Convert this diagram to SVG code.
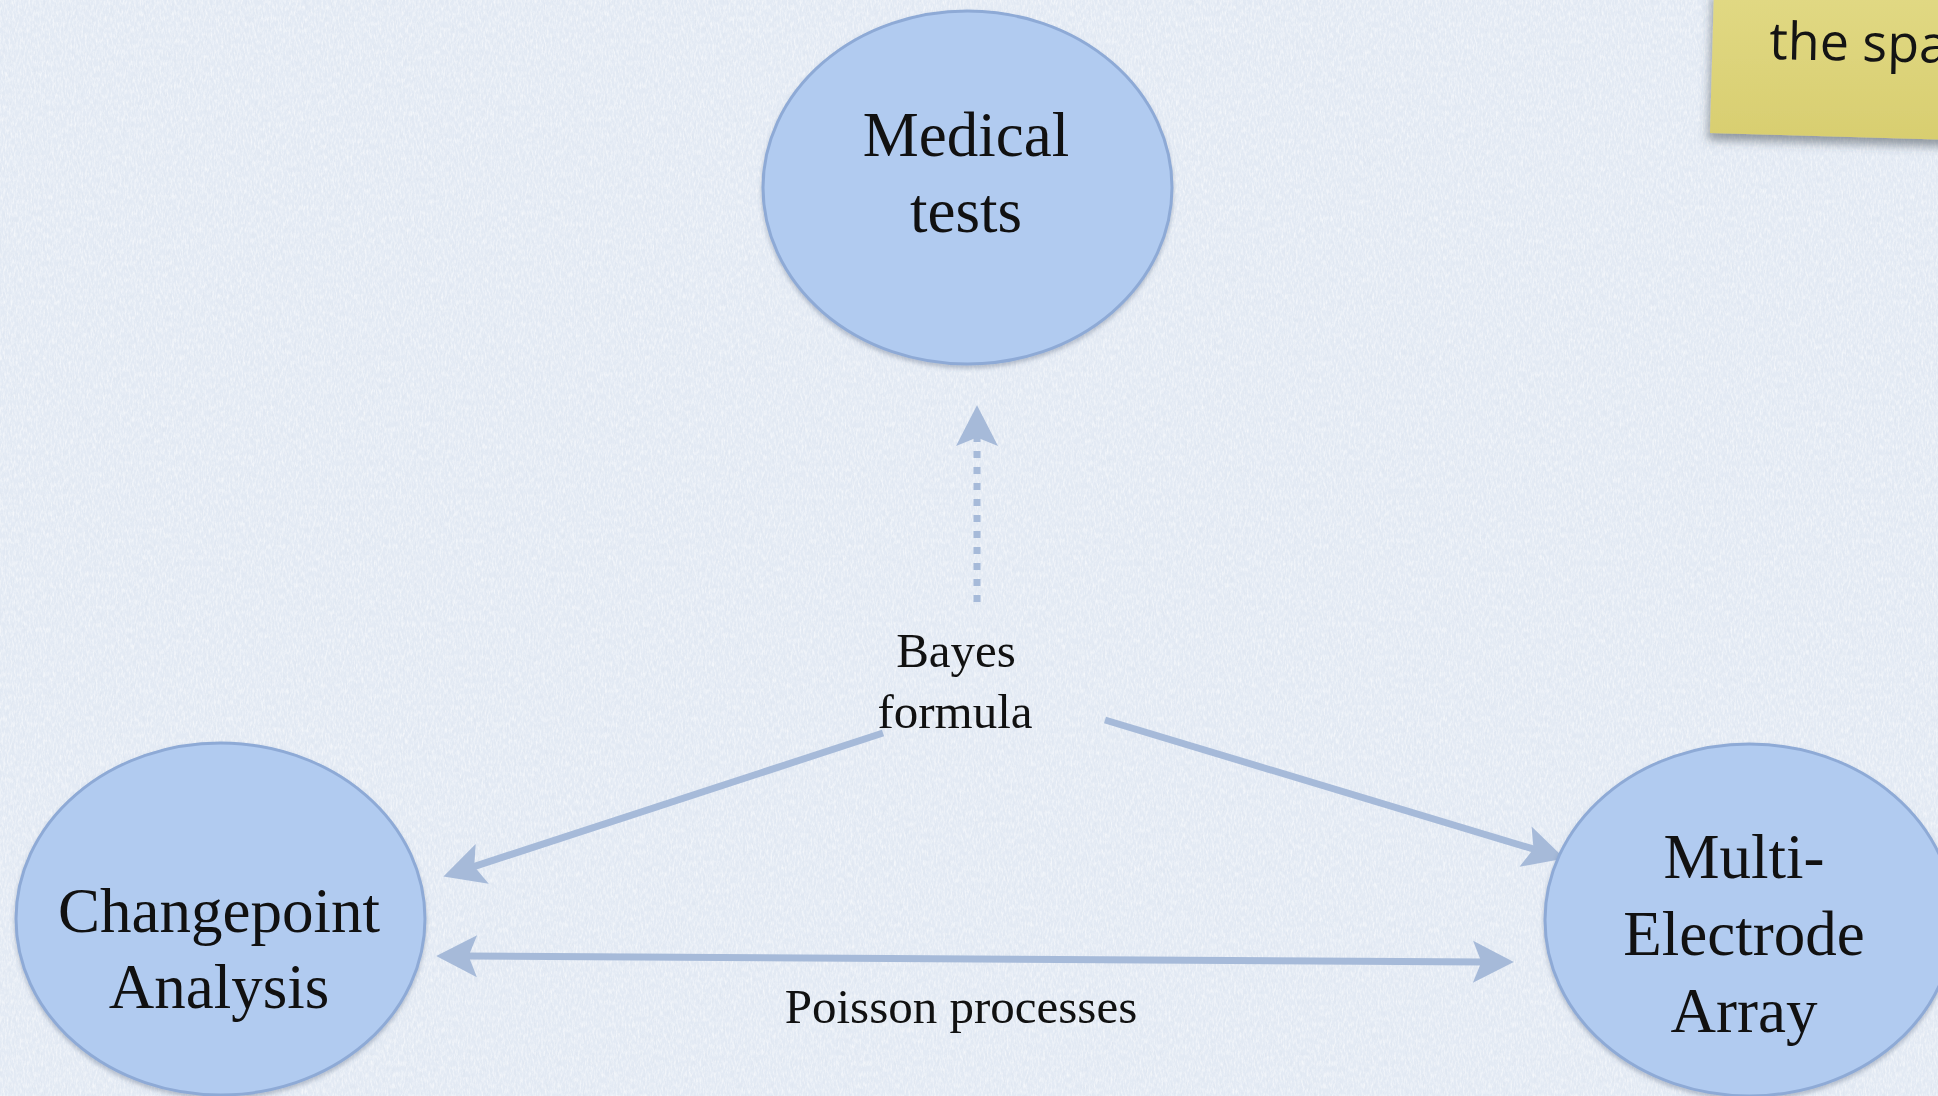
<svg xmlns="http://www.w3.org/2000/svg" width="1938" height="1096" viewBox="0 0 1938 1096">
  <style>
    .node ellipse { fill: #b1cbf0; stroke: #8eaad6; stroke-width: 3; filter: url(#nodeShadow); }
    .node text { font-family: "Liberation Serif", "DejaVu Serif", serif; font-size: 63px; fill: #111; text-anchor: middle; }
    .edge { fill: none; stroke: #a6bad9; stroke-width: 7; stroke-linecap: butt; }
    .edge-label { font-family: "Liberation Serif", "DejaVu Serif", serif; font-size: 49px; fill: #111; text-anchor: middle; }
    .note-text { font-family: "Open Sans", "DejaVu Sans", sans-serif; font-size: 52px; fill: #141414; }
  </style>
  <defs>
    <!-- paper grain over the backdrop: light fibres and faint darker flecks -->
    <filter id="grainLight" x="0" y="0" width="100%" height="100%">
      <feTurbulence type="fractalNoise" baseFrequency="0.55 0.18" numOctaves="3" seed="7" result="noise"/>
      <feColorMatrix in="noise" type="matrix" values="0 0 0 0 1  0 0 0 0 1  0 0 0 0 1  2.2 0 0 0 -0.9"/>
    </filter>
    <filter id="grainDark" x="0" y="0" width="100%" height="100%">
      <feTurbulence type="fractalNoise" baseFrequency="0.35 0.12" numOctaves="2" seed="19" result="noise"/>
      <feColorMatrix in="noise" type="matrix" values="0 0 0 0 0.55  0 0 0 0 0.62  0 0 0 0 0.72  -2 0 0 0 1.0"/>
    </filter>
    <filter id="nodeShadow" x="-10%" y="-10%" width="120%" height="125%">
      <feDropShadow dx="0" dy="3" stdDeviation="2" flood-color="#4f5f78" flood-opacity="0.35"/>
    </filter>
    <filter id="noteShadow" x="-10%" y="-20%" width="130%" height="160%">
      <feDropShadow dx="-2" dy="7" stdDeviation="5" flood-color="#3c4450" flood-opacity="0.5"/>
    </filter>
    <linearGradient id="noteFill" x1="0" y1="0" x2="0" y2="1">
      <stop offset="0" stop-color="#e1d984"/>
      <stop offset="1" stop-color="#d8ce70"/>
    </linearGradient>
    <!-- swept-back arrowhead; origin sits just behind the notch -->
    <marker id="head" markerUnits="userSpaceOnUse" markerWidth="60" markerHeight="60" viewBox="-15 -25 45 50" refX="0" refY="0" orient="auto-start-reverse" overflow="visible">
      <path d="M24,0 L-10,-17.5 L-3,0 L-10,17.5 Z" fill="#a6bad9"/>
    </marker>
  </defs>

  <!-- backdrop -->
  <rect x="0" y="0" width="1938" height="1096" fill="#e3eaf4"/>
  <rect x="0" y="0" width="1938" height="1096" filter="url(#grainDark)" opacity="0.18"/>
  <rect x="0" y="0" width="1938" height="1096" filter="url(#grainLight)" opacity="0.6"/>

  <!-- sticky note, top right -->
  <g id="note">
    <polygon points="1714,-10 1960,-4 1960,140 1710,133" fill="url(#noteFill)" filter="url(#noteShadow)"/>
    <text class="note-text" x="1769" y="59" transform="rotate(1.2 1769 59)">the spa</text>
  </g>

  <!-- connectors -->
  <g id="connectors">
    <line class="edge" x1="977" y1="602" x2="977" y2="434" stroke-width="8" stroke-dasharray="7 9" marker-end="url(#head)"/>
    <line class="edge" x1="883" y1="733" x2="470.8" y2="867.6" marker-end="url(#head)"/>
    <line class="edge" x1="1105" y1="720" x2="1537" y2="850.1" marker-end="url(#head)"/>
    <line class="edge" x1="465" y1="956.1" x2="1485" y2="961.9" marker-start="url(#head)" marker-end="url(#head)"/>
    <text class="edge-label" x="956" y="667">Bayes</text>
    <text class="edge-label" x="955" y="728">formula</text>
    <text class="edge-label" x="961" y="1023">Poisson processes</text>
  </g>

  <g id="medical-tests" class="node">
    <ellipse cx="967.5" cy="187.5" rx="204.5" ry="176.5"/>
    <text x="966" y="156">Medical</text>
    <text x="966" y="232">tests</text>
  </g>

  <g id="changepoint-analysis" class="node">
    <ellipse cx="220.5" cy="919" rx="204.5" ry="176"/>
    <text x="219" y="932">Changepoint</text>
    <text x="219" y="1008">Analysis</text>
  </g>

  <g id="multi-electrode-array" class="node">
    <ellipse cx="1749.5" cy="920" rx="204.5" ry="176"/>
    <text x="1744" y="878">Multi-</text>
    <text x="1744" y="955">Electrode</text>
    <text x="1744" y="1032">Array</text>
  </g>
</svg>
